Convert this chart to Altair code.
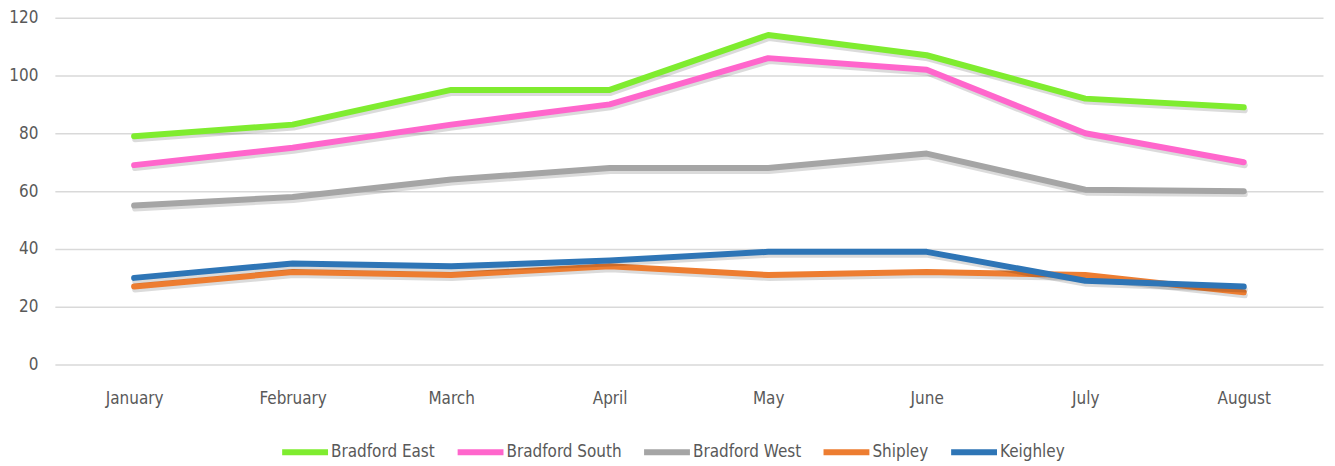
import altair as alt
import pandas as pd

months = ["January", "February", "March", "April", "May", "June", "July", "August"]
series_names = ["Bradford East", "Bradford South", "Bradford West", "Shipley", "Keighley"]
bradford_east = [79, 83, 95, 95, 114, 107, 92, 89]
bradford_south = [69, 75, 83, 90, 106, 102, 80, 70]
bradford_west = [55, 58, 64, 68, 68, 73, 60.5, 60]
shipley = [27, 32, 31, 34, 31, 32, 31, 25]
keighley = [30, 35, 34, 36, 39, 39, 29, 27]
colors = ["#7FEC2F", "#FF66CC", "#A5A5A5", "#ED7D31", "#2E75B6"]
y_ticks = [0, 20, 40, 60, 80, 100, 120]

values = [bradford_east, bradford_south, bradford_west, shipley, keighley]
rows = []
for name, vals in zip(series_names, values):
    for m, v in zip(months, vals):
        rows.append({"month": m, "value": v, "series": name})
df = pd.DataFrame(rows)

FONT = "Liberation Sans Narrow, DejaVu Sans Condensed, sans-serif"

x_enc = alt.X("month:N", sort=months, title=None,
              scale=alt.Scale(type="point", padding=0.5),
              axis=alt.Axis(labelAngle=0, ticks=False, domain=False, grid=False,
                            labelPadding=26, labelFontSize=17, labelColor="#595959",
                            labelFont=FONT))
y_enc = alt.Y("value:Q", title=None,
              scale=alt.Scale(domain=[0, 120], nice=False),
              axis=alt.Axis(values=y_ticks, ticks=False, domain=False, grid=True,
                            gridColor="#D9D9D9", gridWidth=1.5,
                            labelPadding=17, labelFontSize=17, labelColor="#595959",
                            labelFont=FONT))

layers = []
for name in series_names:
    sub = alt.Chart(df).transform_filter(alt.datum.series == name)
    shadow = sub.mark_line(strokeWidth=6, color="#000000", opacity=0.14,
                           strokeCap="round", strokeJoin="round",
                           xOffset=1, yOffset=3).encode(x=x_enc, y=y_enc)
    line = sub.mark_line(strokeWidth=6, strokeCap="round", strokeJoin="round").encode(
        x=x_enc, y=y_enc,
        color=alt.Color("series:N", title=None,
                        scale=alt.Scale(domain=series_names, range=colors),
                        legend=alt.Legend(orient="none", direction="horizontal",
                                          legendX=225, legendY=410,
                                          symbolType="stroke", symbolSize=2116,
                                          symbolStrokeWidth=6, labelFontSize=17,
                                          labelColor="#595959", labelFont=FONT,
                                          labelOffset=0, columnPadding=10)),
    )
    layers += [shadow, line]

chart = alt.layer(*layers).properties(
    width=1272, height=348,
    autosize=alt.AutoSizeParams(type="none"),
    padding={"left": 47, "top": 9, "right": 4, "bottom": 100},
).configure_view(stroke=None).configure_legend(symbolStrokeWidth=6)

chart.save("out.html", embed_options={"renderer": "svg", "actions": False})
